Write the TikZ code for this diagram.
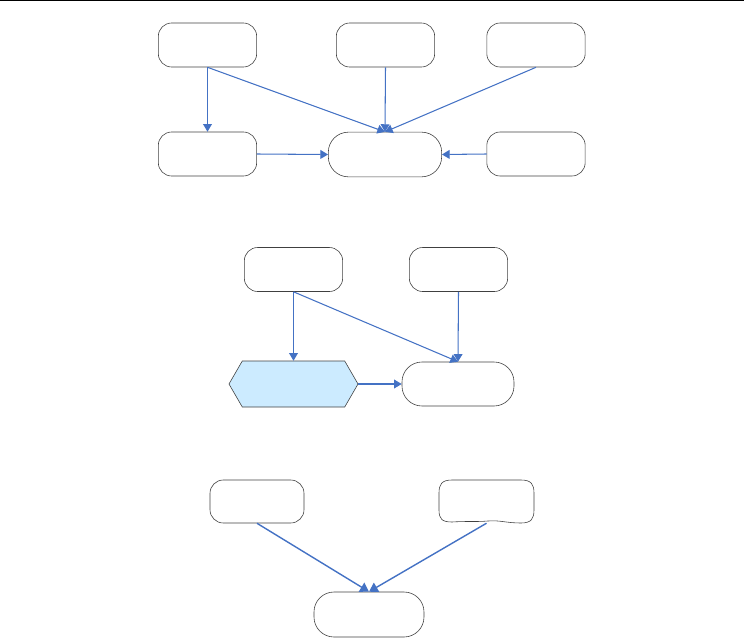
\documentclass[tikz,border=0pt]{standalone}
\usepackage{xcolor}
\usepackage{tikz}
\usetikzlibrary{shapes,shapes.symbols,arrows.meta,positioning,calc}
\definecolor{arrowblue}{HTML}{4472C4}
\definecolor{boxgray}{HTML}{404040}
\definecolor{hexblue}{HTML}{CCEBFF}

\tikzset{
  box/.style={draw=boxgray, line width=0.5pt, rounded corners=0.4cm, minimum width=2.95cm, minimum height=1.32cm, inner sep=0pt},
  pill/.style={box, rounded corners=0.6cm, minimum width=3.4cm, minimum height=1.34cm},
  hexbox/.style={draw=boxgray, line width=0.5pt, fill=hexblue, shape=signal, signal to=west and east, signal pointer angle=120, minimum width=3.87cm, minimum height=1.38cm, inner sep=0pt},
  link/.style={draw=arrowblue, line width=0.9pt, -{Triangle[width=7.5pt, length=6.5pt]}},
  biglink/.style={link, line width=1.2pt, -{Triangle[width=9pt, length=7.5pt]}}
}

\begin{document}
\begin{tikzpicture}[x=0.03cm, y=-0.03cm]
            \useasboundingbox (0,0) rectangle (744,638);
            \draw[line width=1pt] (0,0.5) -- (744,0.5);

            % Top group
            \node[box] (A) at (207.5,45) {};
            \node[box] (B) at (385.5,45) {};
            \node[box] (C) at (536,45) {};
            \node[box] (D) at (207.5,154) {};
            \node[pill] (E) at (385,154.5) {};
            \node[box] (F) at (536,154) {};
            \draw[link] (A.south) -- (D.north);
            \draw[link] (A.south) -- (E.north);
            \draw[link] (B.south) -- (E.north);
            \draw[link] (C.south) -- (E.north);
            \draw[link] (D.east) -- (E.west);
            \draw[link] (F.west) -- (E.east);

            % Middle group
            \node[box] (G) at (293.5,269.5) {};
            \node[box] (H) at (458.5,269.5) {};
            \node[hexbox] (I) at (293.5,384) {};
            \node[pill, minimum width=3.36cm, minimum height=1.32cm] (J) at (458,384) {};
            \draw[link] (G.south) -- (I.north);
            \draw[link] (G.south) -- (J.north);
            \draw[link] (H.south) -- (J.north);
            \draw[link] (I.east) -- (J.west);

            % Bottom group
            \node[box, minimum width=2.82cm, minimum height=1.29cm] (K) at (257,501.5) {};
            \node[minimum width=2.85cm, minimum height=1.29cm, inner sep=0pt] (L) at (486.5,501.5) {};
            \draw[draw=boxgray, line width=0.5pt] (452,480) -- (521,480) .. controls (531,480) and (534,484) .. (534,493) -- (534,510) .. controls (534,519) and (531,523) .. (521,523) .. controls (506,523) and (500,520) .. (488,521) .. controls (476,522) and (468,521) .. (452,522) .. controls (442,522) and (439,519) .. (439,510) -- (439,493) .. controls (439,484) and (442,480) .. (452,480) -- cycle;
            \node[pill, minimum width=3.3cm, minimum height=1.35cm] (M) at (369,614.5) {};
            \draw[biglink] (K.south) -- (M.north);
            \draw[biglink] (L.south) -- (M.north);
\end{tikzpicture}
\end{document}
